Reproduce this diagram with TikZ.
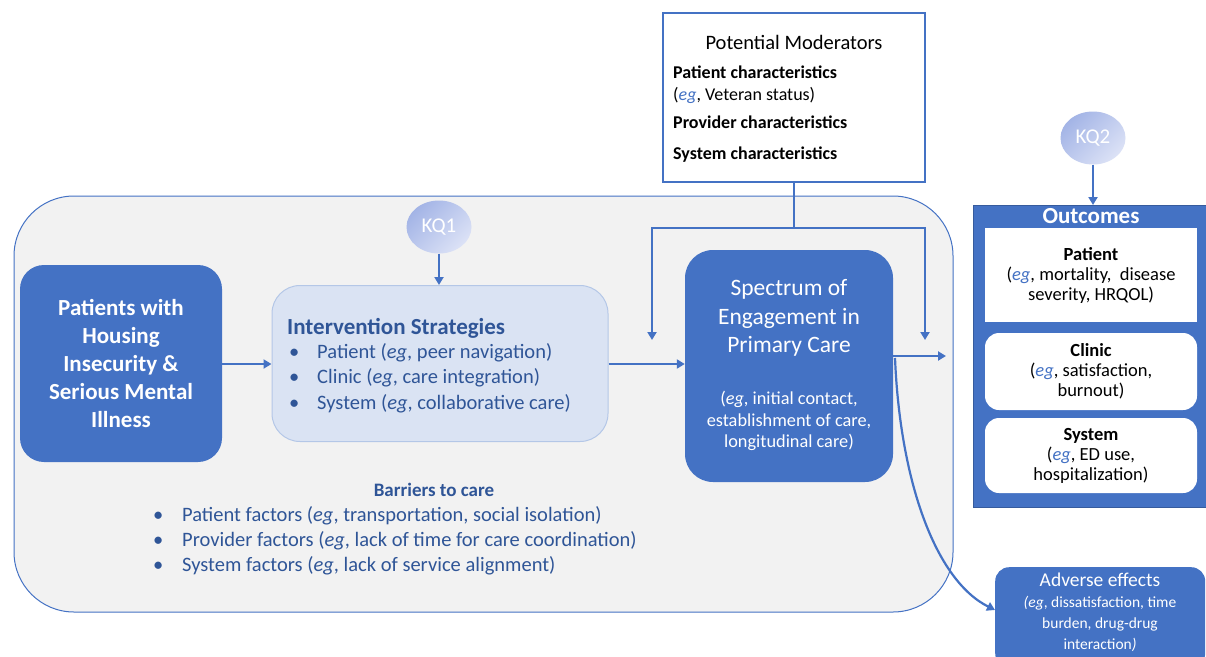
\documentclass[tikz,border=0pt]{standalone}
\usepackage{fontspec}
\setmainfont{Carlito}
\usetikzlibrary{arrows.meta,shapes.geometric}
\definecolor{accent}{HTML}{4472C4}
\definecolor{panel}{HTML}{F2F2F2}
\definecolor{lightbox}{HTML}{DAE3F3}
\definecolor{lightedge}{HTML}{B4C7E7}
\definecolor{darktext}{HTML}{2F5597}
\definecolor{kqdark}{HTML}{A3B4E6}
\definecolor{kqlight}{HTML}{DCE2F6}
\newcommand{\egb}{\textit{\textcolor{accent}{eg}}}
\tikzset{
  link/.style={draw=accent, line width=2.2pt, -{Triangle[width=9pt,length=8pt]}},
  plain/.style={draw=accent, line width=2.2pt},
  solidbox/.style={fill=accent, draw=none, rounded corners=24pt, text=white, align=center, inner sep=0pt},
  kq/.style={ellipse, minimum width=65pt, minimum height=53pt, draw=none, top color=kqdark, bottom color=kqlight, shading angle=45, text=white, font=\fontsize{21}{24}\selectfont},
  outitem/.style={fill=white, draw=none, align=center, minimum width=212pt, inner sep=0pt, font=\fontsize{18.5}{20}\selectfont},
  txt/.style={anchor=base west, inner sep=0pt},
  intline/.style={txt, text=darktext, font=\fontsize{20.5}{24}\selectfont},
  barline/.style={txt, text=darktext, font=\fontsize{20.5}{24}\selectfont},
  advline/.style={anchor=base, inner sep=0pt, text=white, font=\fontsize{15.5}{18}\selectfont},
}
\begin{document}
\begin{tikzpicture}[x=1pt,y=-1pt]
\useasboundingbox (0,0) rectangle (1206,656);
\fill[white] (0,0) rectangle (1206,656);

% grey panel holding the pathway
\draw[fill=panel, draw=accent, line width=1pt, rounded corners=60pt] (14,196) rectangle (953,612);

% moderators box
\node[draw=accent, line width=2.5pt, fill=white, minimum width=262pt, minimum height=169pt, inner sep=0pt] (mod) at (794,97.5) {};
\node[font=\fontsize{20.5}{24}\selectfont] (modt) at (794,42) {Potential Moderators};
\begin{scope}[font=\fontsize{18}{20}\selectfont]
\node[txt] (m1) at (673,78.5) {\textbf{Patient characteristics}};
\node[txt] (m2) at (673,100.5) {(\egb, Veteran status)};
\node[txt] (m3) at (673,128.5) {\textbf{Provider characteristics}};
\node[txt] (m4) at (673,159.5) {\textbf{System characteristics}};
\end{scope}

% main pathway boxes
\node[solidbox, minimum width=202pt, minimum height=197pt, font=\fontsize{23}{28}\selectfont\bfseries] (pat) at (121,363.5)
  {Patients with\\Housing\\Insecurity \&\\Serious Mental\\Illness};

\node[fill=lightbox, draw=lightedge, line width=1pt, rounded corners=28pt, minimum width=336pt, minimum height=156pt, inner sep=0pt] (int) at (440,363.5) {};
\node[txt, text=darktext, font=\fontsize{23}{26}\selectfont\bfseries] (intt) at (287,334) {Intervention Strategies};
\node[intline] (i1) at (289,358) {\makebox[28pt][l]{\textbullet}Patient (\textit{eg}, peer navigation)};
\node[intline] (i2) at (289,383.5) {\makebox[28pt][l]{\textbullet}Clinic (\textit{eg}, care integration)};
\node[intline] (i3) at (289,409) {\makebox[28pt][l]{\textbullet}System (\textit{eg}, collaborative care)};

\node[solidbox, rounded corners=28pt, minimum width=208pt, minimum height=232pt] (spec) at (789,366) {};
\node[text=white, align=center, font=\fontsize{23.5}{28.5}\selectfont] (spect) at (789,318) {Spectrum of\\Engagement in\\Primary Care};
\node[text=white, align=center, font=\fontsize{18.3}{21.5}\selectfont] (specx) at (789,421) {(\textit{eg}, initial contact,\\establishment of care,\\longitudinal care)};

% barriers list
\node[anchor=base, inner sep=0pt, text=darktext, font=\fontsize{19}{20}\selectfont\bfseries] (bart) at (434,496) {Barriers to care};
\node[barline] (b1) at (153,521) {\makebox[29pt][l]{\textbullet}Patient factors (\textit{eg}, transportation, social isolation)};
\node[barline] (b2) at (153,546) {\makebox[29pt][l]{\textbullet}Provider factors (\textit{eg}, lack of time for care coordination)};
\node[barline] (b3) at (153,571) {\makebox[29pt][l]{\textbullet}System factors (\textit{eg}, lack of service alignment)};

% key questions
\node[kq] (kq1) at (439,227) {KQ1};
\node[kq] (kq2) at (1093,138) {KQ2};

% outcomes panel
\node[fill=accent, draw=accent!80!black, line width=0.8pt, minimum width=233pt, minimum height=302pt, inner sep=0pt, anchor=north west] (out) at (973,205) {};
\node[text=white, font=\fontsize{23}{24}\selectfont\bfseries] (outt) at (1091,216) {Outcomes};
\node[outitem, minimum height=94pt] (oP) at (1091,275) {\textbf{Patient}\\(\egb, mortality,\ \ disease\\severity, HRQOL)};
\node[outitem, rounded corners=14pt, minimum height=77pt] (oC) at (1091,371.5) {\textbf{Clinic}\\(\egb, satisfaction,\\burnout)};
\node[outitem, rounded corners=14pt, minimum height=75pt] (oS) at (1091,455.5) {\textbf{System}\\(\egb, ED use,\\hospitalization)};

% adverse effects
\node[fill=accent, rounded corners=14pt, minimum width=210pt, minimum height=100pt, anchor=north west, inner sep=0pt] (adv) at (995,567) {};
\node[anchor=base, inner sep=0pt, text=white, font=\fontsize{19.5}{21}\selectfont] (advt) at (1100,586) {Adverse effects};
\node[advline] (a1) at (1100,607.5) {\textit{(eg}, dissatisfaction, time};
\node[advline] (a2) at (1100,628.5) {burden, drug-drug};
\node[advline] (a3) at (1100,649.5) {interaction\textit{)}};

% connectors
\draw[link] (pat.east |- 0,364) -- (int.west |- 0,364);
\draw[link] (int.east |- 0,364) -- (spec.west |- 0,364);
\draw[link] (kq1.south) -- (int.north -| kq1.south);
\draw[link] (kq2.south) -- (out.north -| kq2.south);
\coordinate (junc) at (794,228);
\coordinate (modL) at (652,340);
\coordinate (modR) at (925,340);
\draw[plain] (mod.south) -- (junc);
\draw[link] (junc) -| (modL);
\draw[link] (junc) -| (modR);
\coordinate (specOut) at (946,356);
\draw[link] (spec.east |- specOut) -- (specOut);
\coordinate (curveStart) at (895,358);
\draw[link] (curveStart) .. controls (900,480) and (935,580) .. (adv.west |- 0,610);

\end{tikzpicture}
\end{document}
